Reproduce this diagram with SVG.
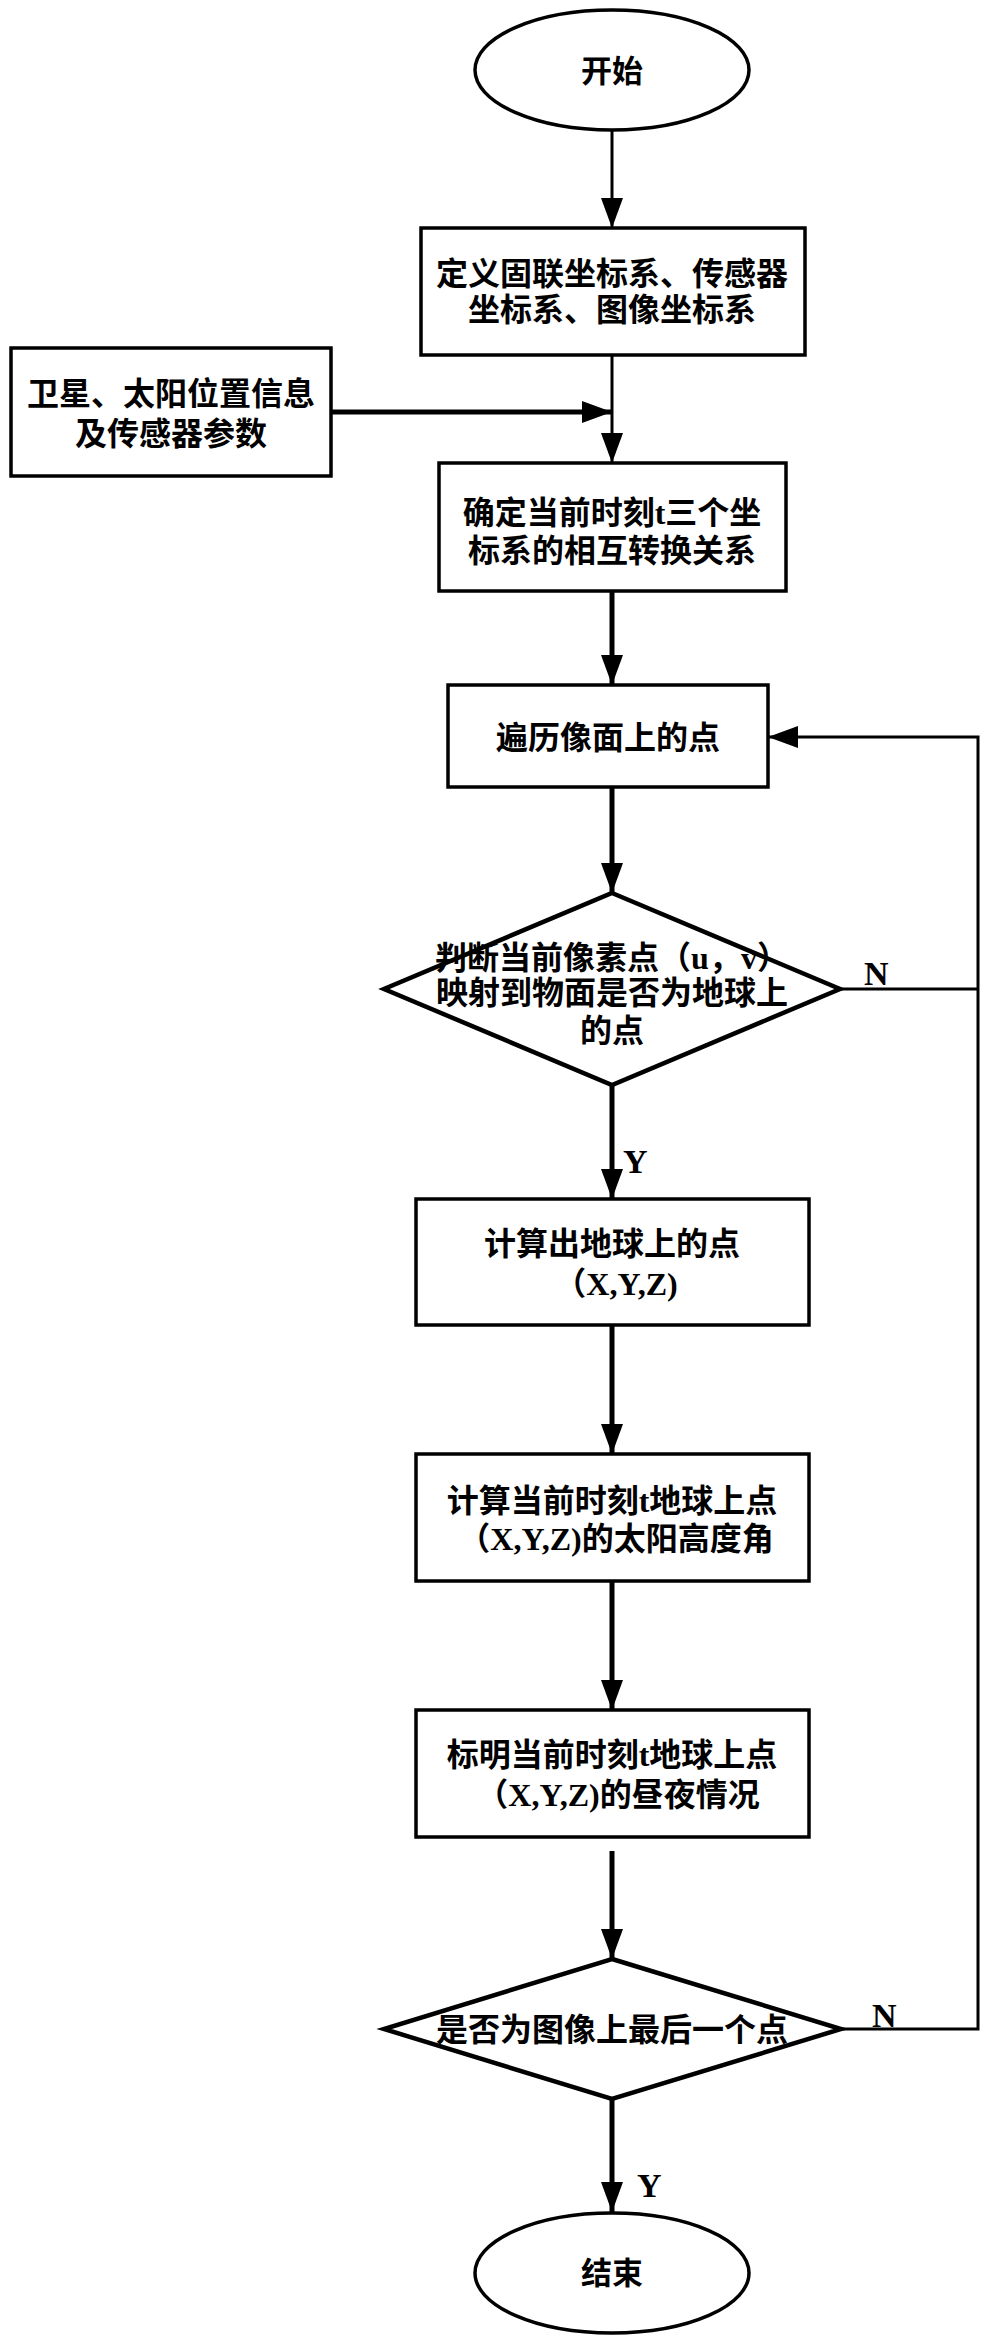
<svg xmlns="http://www.w3.org/2000/svg" width="991" height="2351" viewBox="0 0 991 2351">
<style>
.shape{fill:#fff;stroke:#000;stroke-width:3.5}
.dia{fill:#fff;stroke:#000;stroke-width:4.5}
.t{font-family:"Liberation Serif","Noto Sans CJK SC",sans-serif;font-weight:bold;font-size:32px;text-anchor:middle;fill:#000}
.lbl{font-family:"Liberation Serif",serif;font-weight:bold;font-size:34px;fill:#000}
.c{fill:none;stroke:#000;stroke-width:5}
.thin{fill:none;stroke:#000;stroke-width:3}
</style>
<defs>
<marker id="ah" viewBox="0 0 30 22" refX="30" refY="11" markerWidth="30" markerHeight="22" markerUnits="userSpaceOnUse" orient="auto">
<path d="M0,0 L30,11 L0,22 z" fill="#000"/>
</marker>
</defs>
<rect width="991" height="2351" fill="#fff"/>
<g id="connectors">
<line class="thin" x1="612" y1="130" x2="612" y2="228" marker-end="url(#ah)"/>
<line class="thin" x1="612" y1="355" x2="612" y2="463" marker-end="url(#ah)"/>
<line class="c" x1="331" y1="412" x2="612" y2="412" marker-end="url(#ah)"/>
<line class="c" x1="612" y1="591" x2="612" y2="685" marker-end="url(#ah)"/>
<line class="c" x1="612" y1="787" x2="612" y2="893" marker-end="url(#ah)"/>
<line class="c" x1="612" y1="1085" x2="612" y2="1199" marker-end="url(#ah)"/>
<line class="c" x1="612" y1="1325" x2="612" y2="1454" marker-end="url(#ah)"/>
<line class="c" x1="612" y1="1581" x2="612" y2="1710" marker-end="url(#ah)"/>
<line class="c" x1="612" y1="1851" x2="612" y2="1959" marker-end="url(#ah)"/>
<line class="c" x1="612" y1="2099" x2="612" y2="2212" marker-end="url(#ah)"/>
<path class="thin" d="M841,2029 H978 V737 H768" marker-end="url(#ah)"/>
<path class="thin" d="M840,989 H978"/>
<text class="lbl" x="864" y="985">N</text>
<text class="lbl" x="872" y="2027">N</text>
<text class="lbl" x="623" y="1173">Y</text>
<text class="lbl" x="637" y="2197">Y</text>
</g>
<g id="start">
<ellipse class="shape" cx="612" cy="70" rx="137" ry="60"/>
<text class="t" x="612" y="82" style="font-size:31px">开始</text>
</g>
<g id="define">
<rect class="shape" x="421" y="228" width="384" height="127"/>
<text class="t" x="612" y="285">定义固联坐标系、传感器</text>
<text class="t" x="612" y="321">坐标系、图像坐标系</text>
</g>
<g id="input">
<rect class="shape" x="11" y="348" width="320" height="128"/>
<text class="t" x="171" y="405">卫星、太阳位置信息</text>
<text class="t" x="171" y="445">及传感器参数</text>
</g>
<g id="transform">
<rect class="shape" x="439" y="463" width="347" height="128"/>
<text class="t" x="612" y="524">确定当前时刻t三个坐</text>
<text class="t" x="612" y="562">标系的相互转换关系</text>
</g>
<g id="traverse">
<rect class="shape" x="448" y="685" width="320" height="102"/>
<text class="t" x="608" y="749">遍历像面上的点</text>
</g>
<g id="decision1">
<polygon class="dia" points="612,893 840,989 612,1085 384,989"/>
<text class="t" x="612" y="969">判断当前像素点（u，v）</text>
<text class="t" x="612" y="1004">映射到物面是否为地球上</text>
<text class="t" x="612" y="1042">的点</text>
</g>
<g id="compute-point">
<rect class="shape" x="416" y="1199" width="393" height="126"/>
<text class="t" x="612" y="1255">计算出地球上的点</text>
<text class="t" x="616" y="1295">（X,Y,Z)</text>
</g>
<g id="sun-elevation">
<rect class="shape" x="416" y="1454" width="393" height="127"/>
<text class="t" x="612" y="1512">计算当前时刻t地球上点</text>
<text class="t" x="616" y="1550">（X,Y,Z)的太阳高度角</text>
</g>
<g id="day-night">
<rect class="shape" x="416" y="1710" width="393" height="127"/>
<text class="t" x="612" y="1766">标明当前时刻t地球上点</text>
<text class="t" x="618" y="1806">（X,Y,Z)的昼夜情况</text>
</g>
<g id="decision2">
<polygon class="dia" points="612,1959 841,2029 612,2099 384,2029"/>
<text class="t" x="612" y="2041">是否为图像上最后一个点</text>
</g>
<g id="end">
<ellipse class="shape" cx="612" cy="2273" rx="137" ry="60"/>
<text class="t" x="612" y="2284" style="font-size:31px">结束</text>
</g>
</svg>
